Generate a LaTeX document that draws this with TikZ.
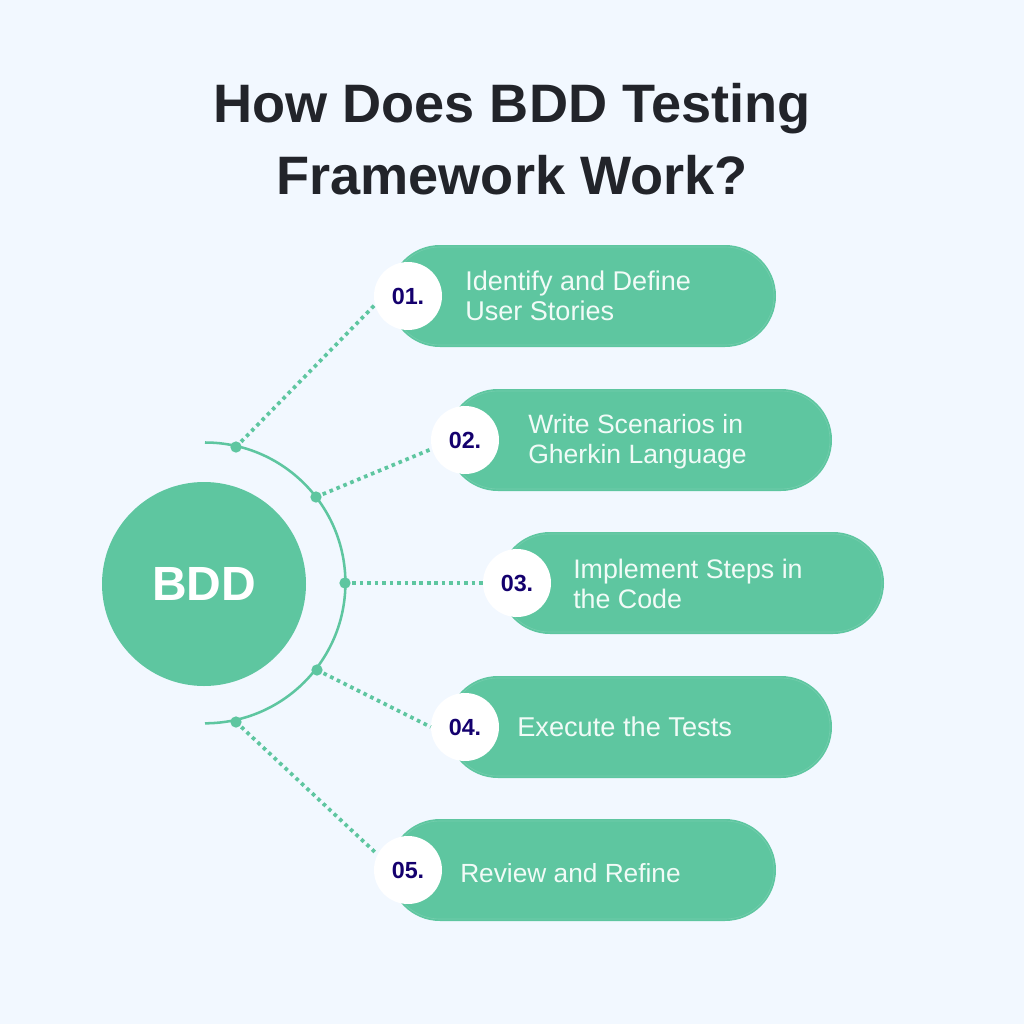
\documentclass[tikz,border=0pt]{standalone}
\usepackage{fontspec}
\setmainfont{Liberation Sans}
\definecolor{bgc}{HTML}{F2F8FF}
\definecolor{grn}{HTML}{5EC6A0}
\definecolor{grnl}{HTML}{72CDAC}
\definecolor{navy}{HTML}{14006E}
\definecolor{ink}{HTML}{22242A}
\definecolor{lbl}{HTML}{F1FBF7}
\tikzset{
 px/.style={x=0.75pt,y=-0.75pt},
 pill/.style={fill=grn,rounded corners=38.25pt,inner sep=0pt},
 numc/.style={circle,fill=white,minimum size=51pt,inner sep=0pt,font=\bfseries\fontsize{17.5}{17.5}\selectfont,text=navy},
 lab/.style={anchor=west,align=left,text=lbl,inner sep=0pt},
 labfont/.style={font=\fontsize{#1}{22.6}\selectfont},
 dotn/.style={circle,fill=grn,minimum size=8.5pt,inner sep=0pt},
 conn/.style={draw=grn,line width=2.8pt,dash pattern=on 2.7pt off 2.9pt,shorten <=1pt},
 title/.style={text=ink,font=\bfseries\fontsize{40.6}{54.5}\selectfont,align=center,inner sep=0pt},
}
\begin{document}
\begin{tikzpicture}[px]
\useasboundingbox (0,0) rectangle (1024,1024);
\fill[bgc] (0,0) rectangle (1024,1024);
\node[title] (ttl) at (512,139) {How Does BDD Testing\\Framework Work?};
\node[circle,fill=grn,minimum size=153pt,inner sep=0pt,text=white,font=\bfseries\fontsize{36}{36}\selectfont] (hub) at (204,584) {BDD};
\draw[grn,line width=1.9pt] (205,442.5) arc[start angle=90,end angle=-90,radius=105.3pt];
\node[dotn] (d1) at (236,447) {};
\node[dotn] (d2) at (316,497) {};
\node[dotn] (d3) at (345,583) {};
\node[dotn] (d4) at (317,670) {};
\node[dotn] (d5) at (236,722) {};
\foreach \n/\l/\r/\t in {1/389/776/245,2/447/832/389,3/499/884/532,4/447/832/676,5/389/776/819}{
 \fill[pill] (\l,\t) rectangle (\r,\t+102);
 \draw[grnl,line width=0.5pt,rounded corners=36.7pt] (\l+2,\t+2) rectangle (\r-2,\t+100);
}
\node[numc] (c1) at (408,296) {01.};
\node[numc] (c2) at (465,440) {02.};
\node[numc] (c3) at (517,583) {03.};
\node[numc] (c4) at (465,727) {04.};
\node[numc] (c5) at (408,870) {05.};
\draw[conn] (d1) -- (c1.195);
\draw[conn] (d2) -- (c2.195);
\draw[conn] (d3) -- (c3.180);
\draw[conn] (d4) -- (c4.180);
\draw[conn] (d5) -- (c5.153);
\node[lab,labfont=20.3] (l1) at (465,296) {Identify and Define\\User Stories};
\node[lab,labfont=19.9] (l2) at (528,441.5) {Write Scenarios in\\Gherkin Language};
\node[lab,labfont=20.1] (l3) at (573,584) {Implement Steps in\\the Code};
\node[lab,labfont=20.4] (l4) at (517,727) {Execute the Tests};
\node[lab,labfont=19.7] (l5) at (460,873) {Review and Refine};
\end{tikzpicture}
\end{document}
